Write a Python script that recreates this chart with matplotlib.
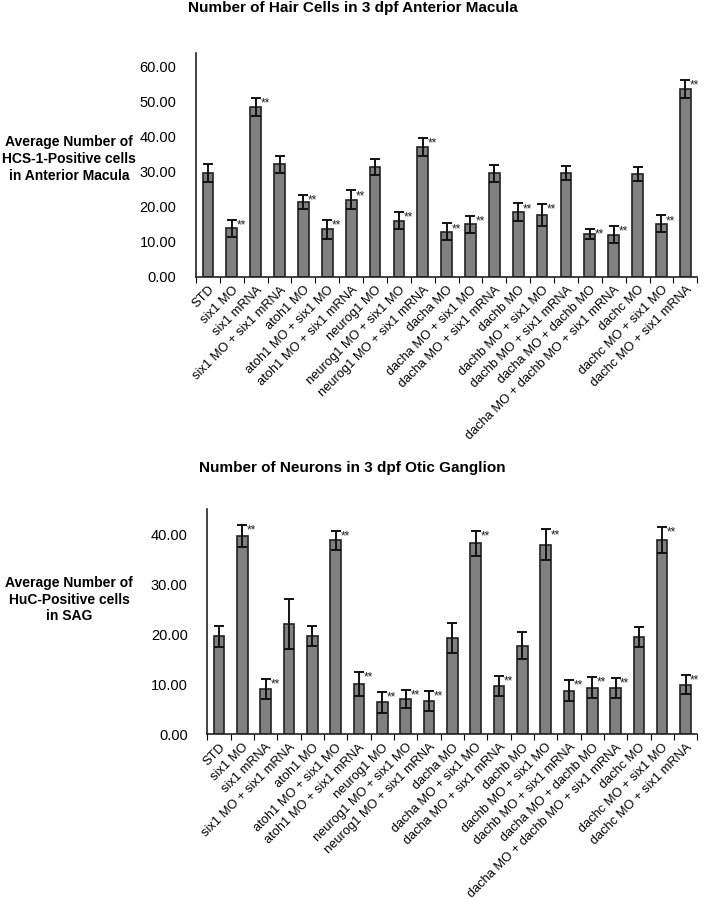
import matplotlib.pyplot as plt
import numpy as np

plt.rcParams['font.family'] = ['Liberation Sans', 'DejaVu Sans']

labels = ['STD', 'six1 MO', 'six1 mRNA', 'six1 MO + six1 mRNA', 'atoh1 MO',
          'atoh1 MO + six1 MO', 'atoh1 MO + six1 mRNA', 'neurog1 MO',
          'neurog1 MO + six1 MO', 'neurog1 MO + six1 mRNA', 'dacha MO',
          'dacha MO + six1 MO', 'dacha MO + six1 mRNA', 'dachb MO',
          'dachb MO + six1 MO', 'dachb MO + six1 mRNA', 'dacha MO + dachb MO',
          'dacha MO + dachb MO + six1 mRNA', 'dachc MO', 'dachc MO + six1 MO',
          'dachc MO + six1 mRNA']

# hair cells, anterior macula
hc_mean = [29.6, 13.8, 48.3, 32.0, 21.3, 13.5, 21.9, 31.3, 16.0, 37.0, 12.9,
           15.0, 29.5, 18.4, 17.7, 29.6, 12.2, 12.0, 29.3, 15.1, 53.4]
hc_err = [2.5, 2.4, 2.6, 2.5, 2.0, 2.6, 2.7, 2.3, 2.5, 2.6, 2.3,
          2.4, 2.4, 2.5, 3.1, 2.0, 1.5, 2.4, 1.9, 2.4, 2.6]
hc_sig = [0, 1, 1, 0, 1, 1, 1, 0, 1, 1, 1, 1, 0, 1, 1, 0, 1, 1, 0, 1, 1]

# neurons, SAG
sag_mean = [19.7, 39.8, 9.1, 22.2, 19.7, 38.9, 10.2, 6.5, 7.2, 6.8, 19.4,
            38.3, 9.7, 17.8, 38.0, 8.8, 9.4, 9.3, 19.6, 39.0, 10.0]
sag_err = [2.1, 2.2, 2.0, 5.0, 2.0, 1.9, 2.4, 2.1, 1.8, 2.0, 3.0,
           2.5, 2.0, 2.7, 3.1, 2.1, 2.1, 2.0, 2.0, 2.6, 1.9]
sag_sig = [0, 1, 1, 0, 0, 1, 1, 1, 1, 1, 0, 1, 1, 0, 1, 1, 1, 1, 0, 1, 1]

fig = plt.figure(figsize=(7.05, 8.99), dpi=100)
ax1 = fig.add_axes([0.278, 0.692, 0.711, 0.249])
ax2 = fig.add_axes([0.294, 0.183, 0.695, 0.251])


def draw(ax, mean, err, sig, ymax, title, ylabel, title_y, label_x, label_y):
    x = np.arange(len(labels))
    ax.bar(x, mean, width=0.45, color='#808080', edgecolor='#222222',
           linewidth=1.2, zorder=2)
    ax.errorbar(x, mean, yerr=err, fmt='none', ecolor='#111111',
                elinewidth=1.4, capsize=3.5, capthick=1.4, zorder=3)
    for xi, m, e, s in zip(x, mean, err, sig):
        if s:
            ax.text(xi + 0.2, m + e - 0.025 * ymax, '**', fontsize=8.5,
                    ha='left', va='center', color='#222222')
    ax.set_xlim(-0.5, len(labels) - 0.5)
    ax.set_ylim(0, ymax)
    ax.set_xticks(x)
    ax.set_xticklabels(labels, rotation=45, ha='right',
                       rotation_mode='anchor', fontsize=9.3)
    ax.set_xticks(np.arange(len(labels) + 1) - 0.5, minor=True)
    ax.tick_params(axis='x', which='major', length=0, pad=5)
    ax.tick_params(axis='x', which='minor', length=4, width=0.8)
    ax.tick_params(axis='y', length=0, pad=14, labelsize=10.5)
    ax.yaxis.set_major_formatter(plt.FormatStrFormatter('%.2f'))
    for side in ['top', 'right']:
        ax.spines[side].set_visible(False)
    for side in ['left', 'bottom']:
        ax.spines[side].set_linewidth(1.2)
        ax.spines[side].set_color('#222222')
    fig.text(0.5, title_y, title, ha='center', va='center',
             fontsize=11, fontweight='bold')
    fig.text(label_x, label_y, ylabel, ha='center', va='center',
             fontsize=10, fontweight='bold', linespacing=1.25)


draw(ax1, hc_mean, hc_err, hc_sig, 63.7,
     'Number of Hair Cells in 3 dpf Anterior Macula',
     'Average Number of\nHCS-1-Positive cells\nin Anterior Macula',
     0.991, 0.098, 0.823)
ax1.set_yticks(np.arange(0, 61, 10))

draw(ax2, sag_mean, sag_err, sag_sig, 45.2,
     'Number of Neurons in 3 dpf Otic Ganglion',
     'Average Number of\nHuC-Positive cells\nin SAG',
     0.479, 0.098, 0.333)
ax2.set_yticks(np.arange(0, 41, 10))

fig.savefig('out.png', dpi=100)
